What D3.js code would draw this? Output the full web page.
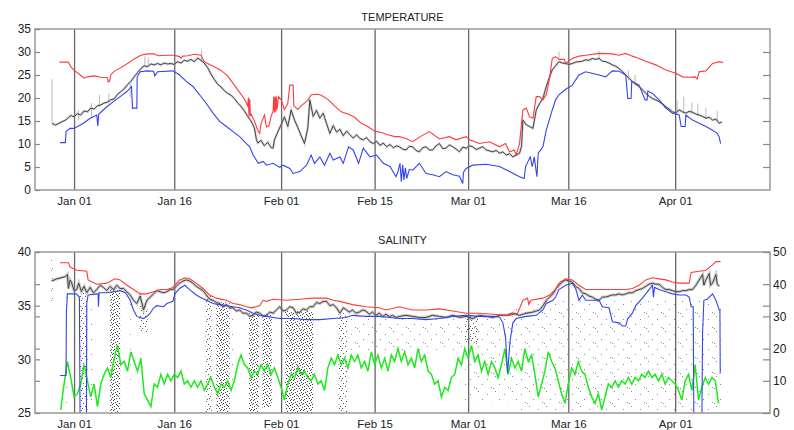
<!DOCTYPE html>
<html><head><meta charset="utf-8">
<script src="https://cdn.jsdelivr.net/npm/d3@7"></script>
<style>
body{margin:0;background:#fff}
text{font-family:"Liberation Sans",Arial,Helvetica,sans-serif}
</style>
</head><body><svg id="c" width="794" height="430"></svg>
<script>
// ---------- x categories (days since Jan 01) ----------
const tickDays = [0, 15, 31, 45, 59, 74, 90];
const tickLabels = ["Jan 01","Jan 16","Feb 01","Feb 15","Mar 01","Mar 16","Apr 01"];
const tempTicks = [0,5,10,15,20,25,30,35];
const salTicks = [25,30,35,40];
const rightTicks = [0,10,20,30,40,50];
const titles = ["TEMPERATURE","SALINITY"];

// ---------- TEMPERATURE ----------
const tempMax = [[-2.2,27.8],[-0.85,27.8],[-0.5,26.8],[0,26.0],[0.5,25.5],[1,24.9],[1.5,24.3],[2,24.6],[3,24.8],[4,24.5],[5,24.4],[5.1,23.5],[5.3,23.6],[5.5,25.0],[6,25.8],[7,26.6],[8,27.5],[9,28.5],[10,29.3],[11,29.6],[12,29.6],[12.5,29.2],[14,29.3],[15,29.3],[15.8,29.0],[16,28.6],[16.3,29.1],[17,29.2],[18,29.5],[19,29.3],[19.5,27.9],[20,27.5],[21,26.8],[22,26.0],[23,24.8],[24,22.8],[25,20.8],[25.6,19.5],[26,18.3],[26.1,20.1],[26.2,16.0],[26.3,19.8],[26.4,16.3],[26.5,16.5],[27,15.0],[27.5,13.0],[27.8,12.3],[28,14.5],[28.5,16.3],[28.8,13.7],[29.2,14.0],[29.5,16.0],[29.8,17.2],[29.9,20.3],[30.0,16.8],[30.1,20.3],[30.2,17.0],[30.3,20.3],[30.4,17.5],[30.6,20.3],[31,19.6],[31.5,17.5],[32,18.8],[32.3,22.8],[32.8,22.8],[32.9,18.3],[33.5,17.5],[34,18.3],[35,19.5],[35.5,20.7],[36.5,20.8],[37,20.6],[38,19.7],[39,18.3],[40,17.0],[41,16.5],[42,15.8],[43,14.5],[44,13.8],[45,12.8],[46,12.5],[47,12.0],[48,11.6],[48.7,11.6],[49.7,11.2],[50.7,10.5],[51.7,11.5],[53.2,12.7],[54.7,11.1],[56.2,11.6],[57.2,10.9],[58.7,11.6],[59.2,10.9],[60.7,10.1],[62.2,10.5],[63.7,9.4],[64.6,10.1],[65.2,8.3],[65.9,8.7],[66.2,7.6],[66.7,10.1],[67.2,17.4],[67.7,17.8],[68.2,15.9],[68.7,15.6],[69.2,20.3],[69.7,20.3],[70.2,19.6],[70.7,20.7],[71.2,24.3],[71.6,28.6],[72.1,29.0],[72.6,28.4],[73.4,28.4],[73.6,27.5],[74.6,28.6],[75.6,29.1],[76.6,29.3],[78.6,29.7],[80.6,29.6],[81.6,29.3],[82.6,29.7],[83.6,29.1],[84.6,28.6],[85.6,28.0],[87.1,27.2],[88.6,26.1],[90.1,25.4],[91.1,24.6],[92.1,24.5],[93.0,24.6],[93.3,24.1],[93.6,25.7],[94.6,25.9],[95.6,27.5],[96.6,27.9],[97.2,27.7]];

const tempMin = [[-2.1,10.3],[-1.3,10.3],[-1.2,12.7],[-0.6,13.4],[0,13.4],[1.4,14.5],[2.4,15.6],[3.4,16.3],[3.55,13.9],[3.7,16.5],[4.9,18.1],[5.9,19.2],[6.9,20.3],[7.9,21.4],[8.6,22.5],[8.75,17.8],[9.4,17.8],[9.45,24.6],[9.9,25.7],[10.9,25.9],[11.9,25.8],[12.1,24.8],[12.5,25.7],[14.8,25.9],[15.8,25.0],[16.8,23.6],[17.8,22.5],[18.8,20.7],[19.8,18.8],[20.8,16.7],[21.8,14.9],[22.8,13.8],[23.8,12.7],[24.8,11.6],[25.8,10.1],[26.3,9.4],[26.8,7.6],[27.6,5.8],[28.3,6.2],[28.8,5.4],[29.8,5.8],[30.8,4.9],[31.3,5.4],[32.3,4.7],[32.8,3.6],[33.8,4.0],[34.8,5.4],[35.5,7.6],[36,5.8],[36.8,7.2],[37.5,5.4],[38.3,8.0],[38.8,6.5],[39.8,7.2],[40.3,5.8],[41.1,9.4],[41.8,8.7],[42.6,5.8],[43.3,9.1],[44.3,7.2],[45.3,7.6],[46.3,5.8],[47.3,5.1],[48.2,2.9],[48.5,4.0],[48.8,5.8],[49.0,1.8],[49.2,5.5],[49.4,2.2],[49.6,4.8],[49.8,2.5],[50.2,4.5],[50.7,4.3],[51.7,5.8],[52.7,3.6],[53.7,3.3],[54.7,2.9],[55.7,4.0],[56.7,3.3],[57.7,3.0],[58.2,1.4],[58.3,3.8],[58.7,4.7],[59.7,5.4],[61.7,5.6],[63.7,5.1],[65.2,4.0],[66.7,2.9],[67.4,2.5],[67.6,5.1],[68.3,7.2],[68.6,5.1],[68.9,7.2],[69.3,2.9],[69.5,8.0],[70.2,9.4],[70.7,13.0],[71.6,17.4],[72.1,19.6],[72.6,20.7],[73.6,21.9],[74.6,22.8],[75.6,25.0],[76.6,25.7],[78.6,25.0],[79.6,24.6],[80.6,25.9],[81.6,25.8],[82.6,25.0],[82.9,19.9],[83.4,19.9],[83.5,23.6],[84.6,22.8],[85.5,19.6],[85.8,19.6],[85.9,21.5],[86.6,21.0],[87.6,19.6],[88.6,17.8],[89.6,16.7],[90.6,16.3],[90.9,13.8],[91.5,13.8],[91.6,16.3],[92.6,15.2],[93.6,14.5],[94.6,13.8],[95.6,13.0],[96.3,12.3],[96.6,11.5],[96.8,10.1]];

const tempObs = [[-3.3,14.5],[-2.8,14.1],[-1.3,15.2],[-1,15.5],[-0.5,16.2],[0,15.9],[0.5,16.6],[1,16.3],[1.5,17.2],[2,17.0],[2.5,17.8],[3,17.6],[3.5,18.3],[4,18.5],[4.5,18.9],[5,19.1],[5.5,19.6],[6,19.8],[6.5,20.8],[7,21.4],[7.5,22.0],[8,22.9],[8.5,23.6],[9,24.6],[9.5,25.5],[10,26.4],[10.5,27.0],[11,26.8],[11.5,27.4],[12,27.2],[12.5,27.5],[13,27.2],[13.5,27.6],[14,27.4],[14.5,27.5],[15,27.3],[15.5,27.9],[16,27.6],[16.5,28.2],[17,28.0],[17.5,28.4],[18,27.9],[18.5,28.7],[19,28.2],[19.5,27.6],[20,26.6],[20.5,25.2],[21,24.0],[21.5,23.0],[22,22.4],[22.5,21.6],[23,21.0],[23.5,20.6],[24,19.9],[24.5,18.9],[25,18.2],[25.5,17.2],[26,16.0],[26.5,15.0],[27,13.5],[27.3,11.0],[27.5,10.2],[28,10.8],[28.5,9.6],[29,10.4],[29.5,9.2],[29.8,9.1],[30,10.9],[30.5,12.6],[31,14.2],[31.5,15.9],[32,13.8],[32.5,17.4],[33,15.2],[33.5,13.6],[34,11.8],[34.5,10.1],[35,13.5],[35.3,19.6],[35.8,16.0],[36.3,17.3],[36.8,15.6],[37.3,16.7],[37.8,14.5],[38.3,12.3],[38.8,14.0],[39.3,12.6],[39.8,13.2],[40.3,11.8],[40.8,12.8],[41.3,12.0],[41.8,11.3],[42.3,12.0],[42.8,11.2],[43.3,10.9],[43.8,11.4],[44.3,10.5],[44.8,10.1],[45.3,10.6],[45.8,9.7],[46.3,10.2],[46.8,9.4],[47.3,9.9],[47.8,9.2],[48.3,9.6],[48.7,9.4],[49.2,8.9],[49.7,8.7],[50.2,9.5],[50.7,9.4],[51.2,8.6],[51.7,8.3],[52.2,9.2],[52.7,9.4],[53.2,8.7],[53.7,8.7],[54.2,9.6],[54.7,10.1],[55.2,9.0],[55.7,9.1],[56.2,9.8],[56.7,9.4],[57.2,8.9],[57.7,8.3],[58.2,9.3],[58.7,9.1],[59.2,9.6],[59.7,9.4],[60.2,8.8],[60.7,9.1],[61.2,9.4],[61.7,8.7],[62.2,8.5],[62.7,8.3],[63.2,8.6],[63.7,8.0],[64.2,8.3],[64.7,7.6],[65.2,7.9],[65.7,7.2],[66.2,7.6],[66.7,8.0],[67.0,9.5],[67.2,15.2],[67.7,14.2],[68.2,13.8],[68.7,13.4],[69.2,17.4],[69.7,18.8],[70.2,19.9],[70.7,22.5],[71.2,24.6],[71.6,26.1],[72.1,27.0],[72.6,27.9],[73.1,27.6],[73.6,27.5],[74.1,27.3],[74.6,27.5],[75.1,27.8],[75.6,27.9],[76.1,28.0],[76.6,28.3],[77.1,28.2],[77.6,28.6],[78.1,28.4],[78.6,28.6],[79.1,28.0],[79.6,27.9],[80.1,27.6],[80.6,27.2],[81.1,26.9],[81.6,26.4],[82.1,25.8],[82.6,25.0],[83.1,24.3],[83.6,23.6],[84.1,23.0],[84.6,22.5],[85.1,21.8],[85.6,21.0],[86.1,20.4],[86.6,19.9],[87.1,19.6],[87.6,19.2],[88.1,18.7],[88.6,18.1],[89.1,17.6],[89.6,17.0],[90.1,16.8],[90.6,17.4],[91.1,17.0],[91.6,16.7],[92.1,17.1],[92.6,16.9],[93.1,16.5],[93.6,16.3],[94.1,16.0],[94.6,15.6],[95.1,15.8],[95.6,15.2],[96.1,15.4],[96.6,14.5],[97.0,14.8]];

// light grey single-value spikes: [day, low, high]
const tempSpikes = [[-3.3,14.5,24.1],[0.65,15.2,17.4],[2.6,15.9,18.9],[3.8,18.0,20.7],[5.2,19.0,21.0],[8.4,20.2,23.3],[10.6,26.7,29.1],[11.1,26.8,28.8],[19.1,27.8,30.4],[72.6,28.6,30.1],[78.6,28.4,30.3],[83.0,23.8,26.0],[84.0,22.6,25.0],[90.3,16.5,19.5],[91.3,16.6,20.3],[92.5,16.5,19.0],[93.4,16.2,18.8],[94.6,15.5,17.8],[96.3,15.0,17.2]];

// ---------- SALINITY ----------
const salMax = [[-2.1,39.0],[-0.85,39.0],[-0.6,38.6],[0.4,38.3],[1.9,38.2],[2.1,37.4],[3.4,37.0],[4.9,37.1],[6.1,37.5],[6.9,37.4],[7.9,36.9],[8.9,36.5],[9.9,36.1],[10.9,36.1],[11.9,36.3],[12.9,36.5],[13.9,36.5],[14.8,36.7],[15.8,37.4],[16.6,37.6],[17.3,37.5],[18.3,37.1],[19.3,36.6],[20.3,36.0],[21.3,35.7],[22.8,35.5],[23.8,35.2],[24.8,35.1],[25.8,34.9],[26.6,34.8],[27.8,35.0],[28.3,35.5],[28.8,35.4],[29.8,35.6],[31.8,35.5],[33.8,35.6],[35.8,35.7],[37.8,35.7],[38.8,35.5],[39.8,35.4],[41.7,35.1],[43.7,34.9],[45.7,34.8],[46.7,34.6],[48.7,34.9],[50.7,34.6],[52.7,34.6],[54.7,34.7],[56.7,34.5],[58.7,34.3],[60.7,34.3],[62.7,34.2],[65.2,34.1],[66.4,34.3],[67.2,35.5],[67.9,35.7],[68.1,35.1],[68.4,35.5],[70.2,35.7],[71.2,36.0],[72.1,36.5],[72.6,37.1],[73.6,37.5],[74.6,37.4],[75.6,36.9],[76.6,36.5],[78.6,36.5],[80.6,36.5],[82.6,36.5],[83.6,36.6],[84.6,36.9],[85.6,37.4],[86.6,37.6],[87.6,37.5],[88.6,37.4],[89.6,37.2],[90.6,37.1],[92.1,37.1],[92.4,38.1],[93.6,38.2],[94.6,38.3],[95.6,38.8],[96.1,39.1],[96.8,39.1]];

const salMin = [[-2.1,28.5],[-1.2,28.5],[-1.15,34.4],[-1.0,36.1],[0.3,36.1],[0.8,35.8],[0.9,24],[1.85,24],[1.9,35.2],[2.1,36.0],[3.4,36.1],[3.6,36.1],[3.65,34.9],[3.75,36.2],[4.9,36.2],[6.9,36.4],[7.7,36.2],[8.4,35.5],[8.9,34.6],[9.4,34.0],[10.4,33.8],[10.9,34.0],[11.4,34.3],[11.9,34.8],[12.4,35.0],[13.4,34.9],[13.9,35.2],[14.8,35.4],[15.1,36.1],[15.8,36.6],[16.6,36.9],[17.3,36.5],[18.3,36.0],[18.8,35.8],[19.8,35.5],[20.8,35.2],[21.8,35.1],[22.8,35.0],[23.8,34.9],[24.8,34.8],[25.8,34.6],[26.8,34.3],[27.8,34.1],[28.8,34.0],[30.8,33.8],[32.8,33.8],[34.8,33.7],[36.8,33.7],[38.8,33.8],[40.7,33.9],[41.7,34.1],[43.7,34.0],[45.7,34.0],[48.7,33.8],[50.7,33.8],[52.7,33.7],[54.7,33.8],[56.7,34.0],[58.7,34.1],[60.7,34.0],[62.7,34.0],[63.7,33.95],[64.2,33.4],[64.6,32.1],[64.9,28.7],[65.3,31.8],[65.7,33.4],[66.2,33.8],[67.7,34.0],[69.2,34.1],[70.2,34.6],[70.7,35.2],[71.7,35.5],[72.1,35.8],[72.6,36.5],[73.6,36.9],[74.6,37.1],[75.1,36.6],[75.6,35.5],[76.1,36.0],[76.6,35.5],[78.6,35.5],[79.1,34.9],[80.1,34.8],[80.6,33.5],[81.6,33.4],[82.1,33.1],[82.6,33.1],[82.9,33.8],[83.6,34.3],[84.1,35.0],[85.1,35.7],[86.1,36.5],[86.6,36.9],[86.75,35.8],[86.9,36.7],[87.6,36.5],[88.6,36.3],[89.6,36.1],[90.6,36.0],[91.6,36.0],[92.1,35.8],[92.4,34.9],[92.7,34.9],[92.8,24],[94.0,24],[94.1,32.4],[94.3,35.5],[94.8,35.6],[95.6,36.1],[96.1,35.5],[96.6,34.6],[96.7,34.6],[96.75,28.7],[96.8,28.7]];

const salObs = [[-3.3,37.3],[-2.6,37.5],[-1.3,37.7],[-1.0,37.9],[-0.85,36.6],[-0.6,37.4],[-0.4,37.2],[0,36.4],[0.4,36.5],[0.7,37.1],[1.1,36.3],[1.5,36.8],[1.9,36.2],[2.4,36.7],[2.9,36.2],[3.4,36.5],[3.9,36.9],[4.4,36.7],[4.9,36.4],[5.4,36.8],[5.9,36.5],[6.4,36.9],[6.9,36.6],[7.4,36.6],[7.9,36.3],[8.4,36.0],[8.9,35.5],[9.4,35.2],[9.9,35.9],[10.4,34.6],[10.9,35.5],[11.4,35.8],[11.9,36.1],[12.4,36.4],[12.9,36.3],[13.4,36.2],[13.9,36.3],[14.4,36.5],[14.8,36.5],[15.3,36.8],[15.8,37.1],[16.3,37.3],[16.8,37.4],[17.3,37.3],[17.8,37.1],[18.3,36.8],[18.8,36.6],[19.3,36.4],[19.8,36.0],[20.3,35.6],[20.8,35.5],[21.3,35.3],[21.8,35.2],[22.3,34.9],[22.8,35.1],[23.3,34.8],[23.8,34.8],[24.3,34.5],[24.8,34.6],[25.3,34.3],[25.8,34.3],[26.3,34.0],[26.8,34.1],[27.3,34.4],[27.8,34.3],[28.3,34.0],[28.8,34.1],[29.3,34.4],[29.8,34.3],[30.3,34.6],[30.8,34.9],[31.3,34.5],[31.8,34.6],[32.3,34.9],[32.8,34.8],[33.3,34.3],[33.8,34.4],[34.3,34.7],[34.8,34.6],[35.3,34.9],[35.8,34.9],[36.3,35.3],[36.8,35.2],[37.3,35.4],[37.8,35.4],[38.3,35.0],[38.8,35.1],[39.3,34.8],[39.8,34.3],[40.3,34.8],[40.8,34.6],[41.2,34.4],[41.7,34.6],[42.2,34.3],[42.7,34.4],[43.2,34.6],[43.7,34.5],[44.2,34.2],[44.7,34.4],[45.2,34.1],[45.7,34.3],[46.2,34.0],[46.7,34.2],[47.2,34.0],[47.7,34.1],[48.2,33.9],[48.7,34.0],[49.7,34.1],[50.7,34.0],[51.7,33.9],[52.7,33.9],[53.7,34.1],[54.7,34.0],[55.7,33.9],[56.7,34.1],[57.7,33.9],[58.7,34.0],[59.7,33.8],[60.7,34.1],[61.7,34.0],[62.7,33.9],[63.7,34.1],[64.7,34.1],[65.7,34.3],[66.7,34.1],[67.7,34.3],[68.7,34.4],[69.7,34.6],[70.2,35.0],[70.7,35.5],[71.2,35.8],[71.7,36.1],[72.2,36.6],[72.6,36.9],[73.1,37.2],[73.6,37.4],[74.1,37.3],[74.6,37.2],[75.1,36.8],[75.6,36.6],[76.1,36.2],[76.6,36.1],[77.1,35.9],[77.6,35.8],[78.1,35.6],[78.6,35.5],[79.1,35.8],[79.6,35.8],[80.1,35.9],[80.6,36.0],[81.1,36.0],[81.6,36.1],[82.1,36.0],[82.6,36.1],[83.1,36.2],[83.6,36.2],[84.1,36.4],[84.6,36.5],[85.1,36.6],[85.6,36.8],[86.1,37.0],[86.6,37.1],[87.1,37.0],[87.6,37.0],[88.1,36.7],[88.6,36.5],[89.1,36.5],[89.6,36.4],[90.1,36.3],[90.6,36.3],[91.1,36.4],[91.6,36.4],[92.1,36.5],[92.6,36.5],[93.1,36.9],[93.6,37.4],[94.1,37.9],[94.3,36.9],[94.6,37.4],[95.1,38.0],[95.3,36.9],[95.6,37.1],[96.1,37.9],[96.3,37.0],[96.6,36.8]];

// dotted grey scatter zones: [dayStart, dayEnd, salTop, salBottom, density]
const salScatter = [[-3.4,-3.2,39.3,34.8,"med"],[-1.2,-0.9,36.5,25,"sparse"],[0.9,2.0,36.3,25,"med"],[2.4,2.7,36.3,25,"sparse"],[3.5,3.8,36.3,30,"sparse"],[5.4,6.9,36.6,25,"dense"],[8.0,8.5,35.8,28,"sparse"],[9.8,11.0,35.0,32.5,"med"],[19.7,20.6,36.0,25,"med"],[21.3,23.3,35.3,25,"dense"],[23.6,24.0,35.0,28,"sparse"],[26.2,27.7,34.4,25,"dense"],[28.2,29.6,34.2,25.5,"dense"],[31.6,35.8,34.5,25,"dense"],[36.5,37.0,35.0,30,"sparse"],[39.6,40.9,34.3,25,"med"],[41.5,58.5,34.0,30.5,"sparse"],[58.5,60.5,34.0,31.5,"med"],[58.5,66.0,34.0,26,"sparse"],[66.0,97.0,35.5,25,"sparse"]];

// green series on right axis, one value every half day starting at day -2
const greenStart = -2, greenStep = 0.5;
const greenVals = [1,9,16,11,5,6,9,15,10,5,9,2,9,12,14,11,17,21,15,16,13,19,16,13,17,6,4,2,9,8,12,9,12,10,12,11,13,9,10,8,10,8,10,7,9,11,8,6,9,8,10,7,10,15,18,15,14,11,13,12,15,13,15,12,14,11,8,4,9,12,11,14,12,13,11,10,12,9,10,7,14,17,15,18,15,17,14,18,16,18,14,16,13,19,15,18,14,17,13,18,16,20,16,19,15,17,14,20,16,18,13,12,9,10,5,8,7,11,12,17,15,20,17,21,16,18,13,16,12,16,14,11,15,20,12,17,14,16,13,20,16,18,12,5,9,13,19,16,14,10,6,3,9,14,12,16,13,12,8,5,3,6,1,5,9,8,10,8,10,9,11,9,11,10,12,11,13,11,12,10,12,9,11,10,9,7,4,10,12,7,15,4,8,11,9,11,10,3];

// ---------- drawing ----------
const L = 35, R = 770;
const svg = d3.select("#c");
const x = d3.scaleLinear().domain([-5.85, 104.2]).range([L, R]);

const defs = svg.append("defs");
// dot textures (style only)
const patterns = {
  dense:{w:10,h:10,c:"#444",dots:[[0,0],[3,0],[7,1],[1,2],[5,2],[9,3],[2,4],[6,4],[0,5],[4,6],[8,6],[2,7],[6,8],[9,8],[1,9],[4,9],[7,5],[3,3]]},
  med:{w:10,h:10,c:"#555",dots:[[1,0],[6,1],[3,3],[8,4],[0,6],[5,6],[9,8],[2,8],[7,9]]},
  sparse:{w:17,h:15,c:"#8c8c8c",dots:[[2,1],[11,4],[6,9],[15,12],[0,13]]}
};
Object.entries(patterns).forEach(([k,p])=>{
  const pt = defs.append("pattern").attr("id","p_"+k).attr("width",p.w).attr("height",p.h).attr("patternUnits","userSpaceOnUse");
  p.dots.forEach(d=>pt.append("rect").attr("x",d[0]).attr("y",d[1]).attr("width",1).attr("height",1).attr("fill",p.c));
});

function panel(top, bottom, id, title) {
  const g = svg.append("g");
  defs.append("clipPath").attr("id",id).append("rect").attr("x",L).attr("y",top).attr("width",R-L).attr("height",bottom-top);
  g.append("text").attr("x",(L+R)/2).attr("y",top-8).attr("text-anchor","middle").attr("font-size",11).attr("fill","#222").text(title);
  const xa = g.append("g").attr("transform",`translate(0,${bottom})`)
    .call(d3.axisBottom(x).tickValues(tickDays).tickFormat((d,i)=>tickLabels[i]).tickSize(-(bottom-top)).tickPadding(7));
  xa.select(".domain").remove();
  xa.selectAll("line").attr("stroke","#666").attr("stroke-width",1.3);
  xa.selectAll("text").attr("font-size",11.5).attr("fill","#222");
  const plot = g.append("g").attr("clip-path",`url(#${id})`);
  return {g, plot};
}
function frame(g, top, bottom) {
  g.append("rect").attr("x",L).attr("y",top).attr("width",R-L).attr("height",bottom-top)
    .attr("fill","none").attr("stroke","#999").attr("stroke-width",1.5);
}
function yaxis(g, axis, pos) {
  const a = g.append("g").attr("transform",`translate(${pos},0)`).call(axis);
  a.select(".domain").remove();
  a.selectAll("line").attr("stroke","#888").attr("stroke-width",1.2);
  a.selectAll("text").attr("font-size",12).attr("fill","#222");
  return a;
}

// ---- temperature panel ----
const tTop = 29, tBot = 190;
const yT = d3.scaleLinear().domain([0,35]).range([tBot, tTop]);
const P1 = panel(tTop, tBot, "clipT", titles[0]);
const lineT = d3.line().x(d=>x(d[0])).y(d=>yT(d[1]));
P1.plot.selectAll(".sp").data(tempSpikes).join("line")
  .attr("x1",d=>x(d[0])).attr("x2",d=>x(d[0])).attr("y1",d=>yT(d[1])).attr("y2",d=>yT(d[2]))
  .attr("stroke","#bbb").attr("stroke-width",1);
P1.plot.append("path").datum(tempObs).attr("d",lineT).attr("fill","none").attr("stroke","#aaa").attr("stroke-width",2.4).attr("opacity",0.5);
P1.plot.append("path").datum(tempObs).attr("d",lineT).attr("fill","none").attr("stroke","#444").attr("stroke-width",1);
P1.plot.append("path").datum(tempMin).attr("d",lineT).attr("fill","none").attr("stroke","#3344ee").attr("stroke-width",1.1);
P1.plot.append("path").datum(tempMax).attr("d",lineT).attr("fill","none").attr("stroke","#ff3b3b").attr("stroke-width",1.1);
frame(P1.g, tTop, tBot);
yaxis(P1.g, d3.axisLeft(yT).tickValues(tempTicks).tickSize(-5).tickPadding(4), L);
yaxis(P1.g, d3.axisRight(yT).tickValues(tempTicks.filter(v=>v>0&&v<35)).tickSize(-7).tickFormat(""), R);

// ---- salinity panel ----
const sTop = 252, sBot = 413;
const yS = d3.scaleLinear().domain([25,40]).range([sBot, sTop]);
const yG = d3.scaleLinear().domain([0,50]).range([sBot, sTop]);
const P2 = panel(sTop, sBot, "clipS", titles[1]);
const lineS = d3.line().x(d=>x(d[0])).y(d=>yS(d[1]));
P2.plot.selectAll(".sc").data(salScatter).join("rect")
  .attr("x",d=>x(d[0])).attr("width",d=>x(d[1])-x(d[0]))
  .attr("y",d=>yS(d[2])).attr("height",d=>yS(d[3])-yS(d[2]))
  .attr("fill",d=>`url(#p_${d[4]})`);
const lineG = d3.line().x((d,i)=>x(greenStart+i*greenStep)).y(d=>yG(d));
P2.plot.append("path").datum(greenVals).attr("d",lineG).attr("fill","none").attr("stroke","#1ee81e").attr("stroke-width",1.5);
P2.plot.append("path").datum(salObs).attr("d",lineS).attr("fill","none").attr("stroke","#999").attr("stroke-width",3).attr("opacity",0.5);
P2.plot.append("path").datum(salObs).attr("d",lineS).attr("fill","none").attr("stroke","#444").attr("stroke-width",1);
P2.plot.append("path").datum(salMin).attr("d",lineS).attr("fill","none").attr("stroke","#3344ee").attr("stroke-width",1.1);
P2.plot.append("path").datum(salMax).attr("d",lineS).attr("fill","none").attr("stroke","#ff3b3b").attr("stroke-width",1.1);
frame(P2.g, sTop, sBot);
yaxis(P2.g, d3.axisLeft(yS).tickValues(salTicks).tickSize(-5).tickPadding(4), L);
yaxis(P2.g, d3.axisLeft(yG).tickValues(rightTicks.filter(v=>v>0&&v<50)).tickSize(-5).tickFormat(""), L);
yaxis(P2.g, d3.axisRight(yG).tickValues(rightTicks).tickSize(-7).tickPadding(3), R);
yaxis(P2.g, d3.axisRight(yS).tickValues([30,35]).tickSize(-7).tickFormat(""), R);
</script>
</body></html>
